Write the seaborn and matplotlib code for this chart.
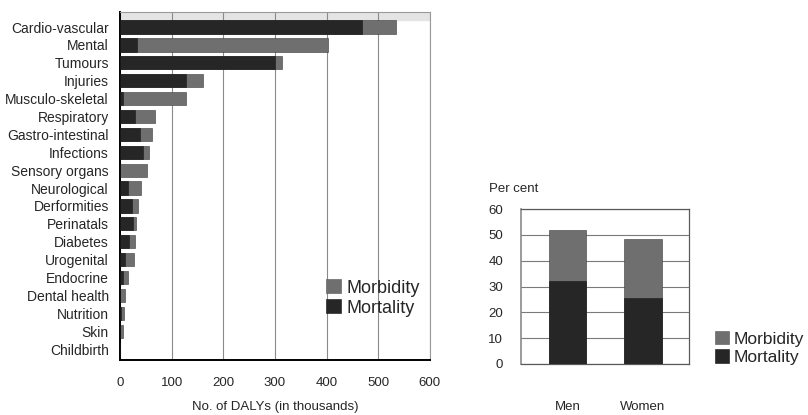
import matplotlib.pyplot as plt
import seaborn as sns
import pandas as pd
from matplotlib.patches import Patch

# DALYs by disease group (thousands)
causes = ['Cardio-vascular', 'Mental', 'Tumours', 'Injuries', 'Musculo-skeletal',
          'Respiratory', 'Gastro-intestinal', 'Infections', 'Sensory organs',
          'Neurological', 'Derformities', 'Perinatals', 'Diabetes', 'Urogenital',
          'Endocrine', 'Dental health', 'Nutrition', 'Skin', 'Childbirth']
mortality = [468, 32, 300, 128, 5, 29, 39, 45, 0, 16, 23, 26, 17, 10, 6, 0, 1, 0, 0]
morbidity = [67, 370, 14, 33, 123, 39, 23, 12, 52, 24, 11, 5, 13, 17, 9, 10, 7, 5, 0.5]

# Share by sex (per cent)
sexes = ['Men', 'Women']
sex_mortality = [32, 25.5]
sex_morbidity = [20, 23]

c_mort = '#262626'
c_morb = '#6f6f6f'

sns.set_style('white')
plt.rcParams['font.family'] = ['Liberation Sans', 'DejaVu Sans']

df = pd.DataFrame({'cause': causes, 'mortality': mortality, 'morbidity': morbidity})
df['total'] = df['mortality'] + df['morbidity']

df_sex = pd.DataFrame({'sex': sexes, 'mortality': sex_mortality, 'morbidity': sex_morbidity})
df_sex['total'] = df_sex['mortality'] + df_sex['morbidity']

fig = plt.figure(figsize=(8.08, 4.15), dpi=100)

# Left chart - DALYs by cause
ax1 = fig.add_axes([0.1485, 0.1325, 0.3835, 0.8385])
ax1.axhspan(-0.84, -0.42, color='#e4e4e4', zorder=0)
sns.barplot(data=df, x='total', y='cause', orient='h', color=c_morb, width=0.74,
            edgecolor='#3a3a3a', linewidth=0.4, ax=ax1, zorder=2)
sns.barplot(data=df, x='mortality', y='cause', orient='h', color=c_mort, width=0.74,
            edgecolor='#1a1a1a', linewidth=0.4, ax=ax1, zorder=3)
ax1.set_xlim(0, 600)
ax1.set_ylim(18.61, -0.84)
ax1.set_xticks(range(0, 601, 100))
ax1.xaxis.grid(True, color='#8a8a8a', linewidth=0.8)
ax1.set_axisbelow(True)
ax1.set_ylabel('')
ax1.set_xlabel('No. of DALYs (in thousands)', fontsize=9.5, labelpad=9)
ax1.tick_params(axis='x', length=0, pad=12, labelsize=9.5)
ax1.tick_params(axis='y', length=0, pad=8, labelsize=10)
for s in ['top', 'right']:
    ax1.spines[s].set_color('#9a9a9a')
    ax1.spines[s].set_linewidth(0.8)
for s in ['left', 'bottom']:
    ax1.spines[s].set_color('black')
    ax1.spines[s].set_linewidth(1.4)

handles = [Patch(facecolor=c_morb, edgecolor='#555555', linewidth=0.4, label='Morbidity'),
           Patch(facecolor=c_mort, edgecolor='#111111', linewidth=0.4, label='Mortality')]
fig.legend(handles=handles, loc='center left', bbox_to_anchor=(0.395, 1 - 298 / 415),
           frameon=False, fontsize=13, handlelength=0.8, handleheight=0.8,
           handletextpad=0.3, labelspacing=0.15, borderaxespad=0)

# Right chart - share by sex
ax2 = fig.add_axes([0.645, 0.123, 0.208, 0.373])
sns.barplot(data=df_sex, x='sex', y='total', color=c_morb, width=0.49,
            edgecolor='#3a3a3a', linewidth=0.4, ax=ax2, zorder=2)
sns.barplot(data=df_sex, x='sex', y='mortality', color=c_mort, width=0.49,
            edgecolor='#1a1a1a', linewidth=0.4, ax=ax2, zorder=3)
ax2.set_xlim(-0.61, 1.61)
ax2.set_ylim(0, 60)
ax2.set_yticks(range(0, 61, 10))
ax2.yaxis.grid(True, color='#7a7a7a', linewidth=0.8)
ax2.set_axisbelow(True)
ax2.set_xlabel('')
ax2.set_ylabel('')
ax2.tick_params(axis='x', length=0, pad=27, labelsize=9.5)
ax2.tick_params(axis='y', length=0, pad=13, labelsize=9.5)
for s in ['top', 'right', 'bottom']:
    ax2.spines[s].set_color('#5a5a5a')
    ax2.spines[s].set_linewidth(0.9)
ax2.spines['left'].set_color('#8a8a8a')
ax2.spines['left'].set_linewidth(1.2)
fig.text(489 / 808, 1 - 189 / 415, 'Per cent', fontsize=9.5, va='center', ha='left')

fig.legend(handles=handles, loc='center left', bbox_to_anchor=(708 / 808, 1 - 348 / 415),
           frameon=False, fontsize=12.5, handlelength=0.8, handleheight=0.8,
           handletextpad=0.3, labelspacing=0.15, borderaxespad=0)

fig.savefig('out.png', dpi=100)
